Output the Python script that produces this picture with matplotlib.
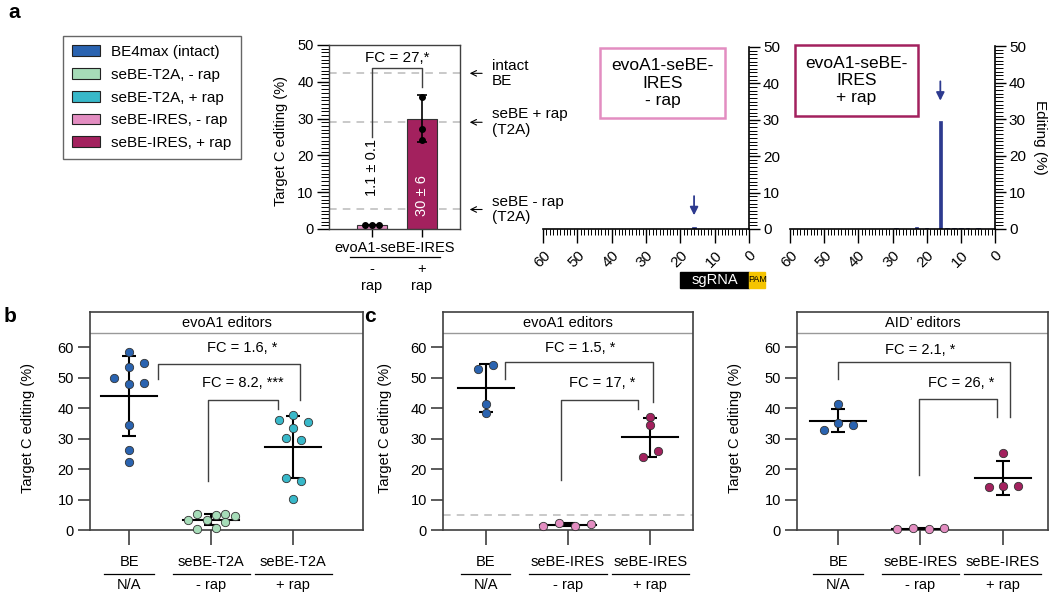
import matplotlib.pyplot as plt
import numpy as np
from matplotlib.patches import Patch, Rectangle

plt.rcParams['font.family'] = ['Liberation Sans', 'DejaVu Sans']

W, H = 1050, 595

BLUE = '#2a63b0'
GREEN = '#a6dcb8'
TEAL = '#38b8c9'
PINK = '#e38dc1'
MAGENTA = '#a3215e'
NAVY = '#2d3a8f'
GREY = '#404040'

# legend (panel a)
legend_labels = ['BE4max (intact)', 'seBE-T2A, - rap', 'seBE-T2A, + rap',
                 'seBE-IRES, - rap', 'seBE-IRES, + rap']
legend_colors = [BLUE, GREEN, TEAL, PINK, MAGENTA]

# panel a, bar chart
bar_means = [1.1, 30]
bar_sd = [0.1, 6.3]
bar_dots = [[1.0, 1.1, 1.1], [35.9, 27.2, 24.2]]
bar_dot_offsets = [[-0.14, 0, 0.14], [0, 0, 0]]
ref_levels = [42.3, 29.0, 5.3]
ref_labels = ['intact\nBE', 'seBE + rap\n(T2A)', 'seBE - rap\n(T2A)']

# panel a, editing along the protospacer
spec_pos_minus = [16]
spec_val_minus = [0.6]
spec_pos_plus = [29, 23, 20, 16, 14, 12, 10, 8, 5]
spec_val_plus = [0.2, 0.6, 0.3, 29.5, 0.15, 0.15, 0.15, 0.15, 0.4]

# panel b
b_groups = [[58.5, 54.8, 53.4, 49.7, 47.8, 48.1, 34.3, 26.1, 22.3],
            [3.2, 5.1, 0.4, 3.2, 4.9, 0.8, 5.4, 2.5, 4.6],
            [36.0, 37.6, 33.3, 35.4, 30.1, 29.4, 16.9, 16.1, 10.2]]
b_offsets = [[0, 0.18, 0, -0.18, 0, 0.18, 0, 0, 0],
             [-0.28, -0.17, -0.17, -0.05, 0.06, 0.06, 0.17, 0.17, 0.29],
             [-0.17, 0, 0, 0.18, -0.09, 0.09, -0.09, 0.09, 0]]
b_top = ['BE', 'seBE-T2A', 'seBE-T2A']
b_bottom = ['N/A', '- rap', '+ rap']

# panel c, evoA1
c_groups = [[52.8, 54.0, 41.2, 38.3],
            [1.3, 2.3, 1.4, 2.0],
            [36.9, 34.5, 24.0, 26.0]]
c_offsets = [[-0.1, 0.085, 0, 0],
             [-0.3, -0.11, 0.09, 0.28],
             [0, 0, -0.09, 0.09]]

# panel c, AID'
d_groups = [[32.8, 41.2, 35.0, 34.6],
            [0.2, 0.8, 0.4, 0.5],
            [25.4, 14.0, 14.4, 14.4]]
d_offsets = [[-0.17, 0, 0, 0.18],
             [-0.28, -0.09, 0.1, 0.29],
             [0, -0.17, 0, 0.18]]
cd_top = ['BE', 'seBE-IRES', 'seBE-IRES']
cd_bottom = ['N/A', '- rap', '+ rap']


fig = plt.figure(figsize=(10.5, 5.95), dpi=100)


def px_axes(l, t, r, b):
    return fig.add_axes([l / W, 1 - b / H, (r - l) / W, (b - t) / H])


def fig_box(l, t, r, b, color, text):
    fig.add_artist(Rectangle((l / W, 1 - b / H), (r - l) / W, (b - t) / H,
                             transform=fig.transFigure, fill=False,
                             edgecolor=color, lw=1.8))
    fig.text((l + r) / 2 / W, 1 - (t + b) / 2 / H, text, ha='center',
             va='center', fontsize=12.5, linespacing=1.2)


# ---- panel a: editing windows (drawn first so the bar chart notes sit on top)
def spec_axes(ax, pos, vals, tip):
    ax.patch.set_visible(False)
    ax.bar(pos, vals, width=1, color=NAVY, edgecolor=NAVY, lw=0.5)
    ax.set_xlim(60, 0)
    ax.set_ylim(0, 50)
    for s in ['left', 'top']:
        ax.spines[s].set_visible(False)
    for s in ['right', 'bottom']:
        ax.spines[s].set_linewidth(1.2)
    ax.yaxis.tick_right()
    ax.set_yticks(range(0, 51, 10))
    ax.set_yticks(range(0, 51), minor=True)
    ax.set_xticks(range(0, 61, 10))
    ax.set_xticks(range(0, 61), minor=True)
    ax.tick_params(axis='y', which='major', length=8, width=1, labelsize=11,
                   pad=2)
    ax.tick_params(axis='y', which='minor', length=5.5, width=0.7)
    ax.tick_params(axis='x', which='major', length=10, width=1, labelsize=11)
    ax.tick_params(axis='x', which='minor', length=4.5, width=0.7)
    for lab in ax.get_xticklabels():
        lab.set_rotation(45)
        lab.set_ha('right')
        lab.set_va('top')
        lab.set_rotation_mode('anchor')
    top = pos[int(np.argmax(vals))]
    ax.annotate('', xy=(top, tip), xytext=(top, tip + 6.8),
                arrowprops=dict(arrowstyle='-|>', color=NAVY, lw=1.3,
                                mutation_scale=12))


axs1 = px_axes(543, 47, 749, 229)
spec_axes(axs1, spec_pos_minus, spec_val_minus, 3.0)
axs2 = px_axes(790, 46, 995, 229)
spec_axes(axs2, spec_pos_plus, spec_val_plus, 34.3)
axs2.yaxis.set_label_position('right')
axs2.set_ylabel('Editing (%)', rotation=270, va='bottom', fontsize=11,
                labelpad=5)

xs = axs1.get_xaxis_transform()
yb = (229 - 288) / 182
hb = 16 / 182
axs1.add_patch(Rectangle((20, yb), -20, hb, transform=xs, color='black',
                         clip_on=False))
axs1.add_patch(Rectangle((0, yb), -4.8, hb, transform=xs, color='#f5c400',
                         clip_on=False))
axs1.text(10, yb + hb / 2, 'sgRNA', transform=xs, color='white',
          ha='center', va='center', fontsize=10.5)
axs1.text(-2.4, yb + hb / 2, 'PAM', transform=xs, color='black',
          ha='center', va='center', fontsize=6.5)

fig_box(600, 48, 725, 118, PINK, 'evoA1-seBE-\nIRES\n- rap')
fig_box(795, 45, 918, 116, MAGENTA, 'evoA1-seBE-\nIRES\n+ rap')

# ---- panel a: legend
handles = [Patch(facecolor=c, edgecolor='#222222', lw=0.8, label=l)
           for l, c in zip(legend_labels, legend_colors)]
leg = fig.legend(handles=handles, loc='upper left',
                 bbox_to_anchor=(63 / W, 1 - 36 / H), frameon=True,
                 fancybox=False, edgecolor=GREY, fontsize=11,
                 handlelength=1.85, handleheight=0.7, labelspacing=0.57,
                 borderpad=0.6, borderaxespad=0, handletextpad=0.7)
leg.get_frame().set_linewidth(1)

# ---- panel a: bar chart
axa = px_axes(329, 45, 460, 229)
for lvl in ref_levels:
    axa.axhline(lvl, color='#bbbbbb', ls=(0, (5, 4)), lw=1.1, zorder=0)
axa.bar([0, 1], bar_means, width=0.6, color=[PINK, MAGENTA],
        edgecolor='#333333', lw=0.8, zorder=2)
axa.errorbar([0, 1], bar_means, yerr=bar_sd, fmt='none', ecolor='black',
             elinewidth=1.2, capsize=3.5, capthick=1.2, zorder=3)
for i, (vals, offs) in enumerate(zip(bar_dots, bar_dot_offsets)):
    axa.scatter(i + np.array(offs), vals, s=16, color='black', zorder=4)
axa.set_xlim(-0.86, 1.76)
axa.set_ylim(0, 50)
axa.set_yticks(range(0, 51, 10))
axa.set_yticks(range(0, 51), minor=True)
axa.set_xticks([0, 1])
axa.set_xticklabels([])
axa.tick_params(axis='y', which='major', length=9, width=1, labelsize=10.5,
                pad=2)
axa.tick_params(axis='y', which='minor', length=6, width=0.7)
axa.tick_params(axis='x', length=6, width=1)
for s in axa.spines.values():
    s.set_color(GREY)
    s.set_linewidth(1)
axa.set_ylabel('Target C editing (%)', fontsize=10.5)
axa.yaxis.set_label_coords(-0.313, 0.48)

axa.plot([0, 0, 1, 1], [25.1, 43.8, 43.8, 38.7], color=GREY, lw=1)
axa.text(0.5, 46.4, 'FC = 27,*', ha='center', va='center', fontsize=11)
axa.text(0, 16.8, '1.1 ± 0.1', rotation=90, ha='center', va='center',
         fontsize=10.5)
axa.text(1, 9.2, '30 ± 6', rotation=90, ha='center', va='center',
         fontsize=10.5, color='white')

ya = axa.get_yaxis_transform()
for lvl, lab in zip(ref_levels, ref_labels):
    axa.annotate('', xy=(1.053, lvl), xycoords=ya, xytext=(1.19, lvl),
                 textcoords=ya,
                 arrowprops=dict(arrowstyle='->', lw=0.8, color='black'))
    axa.text(1.244, lvl, lab, transform=ya, ha='left', va='center',
             fontsize=11, linespacing=1.15, zorder=10)

xa = axa.get_xaxis_transform()
axa.text(0.46, (229 - 248) / 184, 'evoA1-seBE-IRES', transform=xa,
         ha='center', va='center', fontsize=10.5)
axa.plot([-0.44, 1.36], [(229 - 257) / 184] * 2, transform=xa,
         color='black', lw=0.9, clip_on=False)
for i, sign in enumerate(['-', '+']):
    axa.text(i, (229 - 269) / 184, sign, transform=xa, ha='center',
             va='center', fontsize=10.5)
    axa.text(i, (229 - 286) / 184, 'rap', transform=xa, ha='center',
             va='center', fontsize=10.5)


# ---- panels b and c: dot plots
def dot_panel(ax, title, groups, colors, offsets, tops, bottoms, xlim,
              brackets, label_x, dashed=None):
    ax.set_xlim(*xlim)
    ax.set_ylim(0, 71.5)
    if dashed is not None:
        ax.axhline(dashed, color='#bbbbbb', ls=(0, (5, 4)), lw=1.1, zorder=0)
    for i, (vals, c, offs) in enumerate(zip(groups, colors, offsets)):
        vals = np.array(vals)
        m, sd = vals.mean(), vals.std(ddof=1)
        ax.plot([i - 0.34, i + 0.34], [m, m], color='black', lw=1.5, zorder=3)
        ax.errorbar(i, m, yerr=sd, fmt='none', ecolor='black', elinewidth=1.5,
                    capsize=4.8, capthick=1.5, zorder=3)
        ax.scatter(i + np.array(offs), vals, s=36, color=c, edgecolor='#333333',
                   linewidth=0.6, zorder=4, clip_on=False)
    for xl, yl, xr, yr, ytop, txt, tx, ty in brackets:
        ax.plot([xl, xl, xr, xr], [yl, ytop, ytop, yr], color=GREY, lw=1)
        ax.text(tx, ty, txt, ha='center', va='center', fontsize=10.5)
    ax.axhline(64.6, color='#999999', lw=1)
    ax.text(0.5, 68, title, transform=ax.get_yaxis_transform(), ha='center',
            va='center', fontsize=10.5)
    ax.set_yticks(range(0, 61, 10))
    ax.set_xticks([0, 1, 2])
    ax.set_xticklabels([])
    ax.tick_params(axis='y', length=8.6, width=1.2, color=GREY, labelsize=10.5,
                   pad=3)
    ax.tick_params(axis='x', length=10.8, width=1.2, color=GREY)
    for s in ax.spines.values():
        s.set_color(GREY)
        s.set_linewidth(1.2)
    ax.set_ylabel('Target C editing (%)', fontsize=10.5)
    ax.yaxis.set_label_coords(label_x, 0.47)
    tr = ax.get_xaxis_transform()
    for i, (top, bot) in enumerate(zip(tops, bottoms)):
        ax.text(i, -0.147, top, transform=tr, ha='center', va='center',
                fontsize=10.5)
        hw = 0.3 if len(top) < 5 else 0.47
        ax.plot([i - hw, i + hw], [-0.202, -0.202], transform=tr,
                color='black', lw=0.9, clip_on=False)
        ax.text(i, -0.252, bot, transform=tr, ha='center', va='center',
                fontsize=10.5)


axb = px_axes(90, 312, 363, 530)
dot_panel(axb, 'evoA1 editors', b_groups, [BLUE, GREEN, TEAL], b_offsets,
          b_top, b_bottom, (-0.476, 2.85),
          [(0.35, 49.4, 2.085, 42.8, 54.6, 'FC = 1.6, *', 1.38, 59.8),
           (0.96, 16.1, 1.82, 39.6, 42.6, 'FC = 8.2, ***', 1.38, 48.3)],
          -0.201)

axc = px_axes(443, 312, 693, 530)
dot_panel(axc, 'evoA1 editors', c_groups, [BLUE, PINK, MAGENTA], c_offsets,
          cd_top, cd_bottom, (-0.52, 2.52),
          [(0.24, 49.6, 2.03, 42.1, 55.2, 'FC = 1.5, *', 1.15, 59.6),
           (0.91, 16.4, 1.85, 39.6, 42.8, 'FC = 17, *', 1.41, 48.3)],
          -0.204, dashed=5)

axd = px_axes(797, 312, 1048, 530)
dot_panel(axd, 'AID\u2019 editors', d_groups, [BLUE, PINK, MAGENTA], d_offsets,
          cd_top, cd_bottom, (-0.5, 2.55),
          [(0, 49.6, 2.09, 36.9, 55.0, 'FC = 2.1, *', 1.0, 59.2),
           (0.98, 18.0, 1.93, 36.9, 42.9, 'FC = 26, *', 1.5, 48.1)],
          -0.219)

fig.text(8 / W, 1 - 12 / H, 'a', fontsize=15, fontweight='bold', va='center')
fig.text(4 / W, 1 - 317 / H, 'b', fontsize=15, fontweight='bold', va='center')
fig.text(364 / W, 1 - 317 / H, 'c', fontsize=15, fontweight='bold', va='center')

fig.savefig('out.png', dpi=100)
